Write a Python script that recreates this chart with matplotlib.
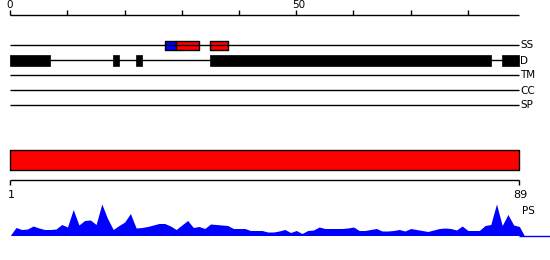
import matplotlib
matplotlib.use('Agg')
import matplotlib.pyplot as plt
import numpy as np

# sequence length and feature tracks
seq_len = 89
tracks = ['SS', 'D', 'TM', 'CC', 'SP']

# secondary structure segments (start, end, colour)
ss_segments = [(27, 29, 'blue'), (29, 33, 'red'), (35, 38, 'red')]
# disorder segments (start, end)
d_segments = [(0, 7), (18, 19), (22, 23), (35, 84), (86, 89)]

# domain bar across the whole sequence
domain = (0, 89)
domain_labels = ['1', '89']

# per-residue profile (PS), residues 1..89
ps_scores = [8, 6, 6.5, 9.5, 7.5, 6, 6, 6.5, 11, 8.5,
             26, 10.5, 15, 15.5, 11, 31.5, 17, 6, 10, 13.5,
             22, 7.5, 8, 9, 10.5, 12, 12, 9.5, 6, 10.5,
             15, 8, 9, 7, 11.5, 11, 10.5, 10, 7, 7,
             7, 5, 5, 5, 3.5, 3.5, 4.5, 6, 3, 5,
             2, 5, 5.5, 8.5, 7, 7, 7, 7, 7.5, 8.5,
             5, 5, 6, 7, 4.5, 4.5, 5, 6, 4.5, 7,
             6, 5, 4, 5.5, 7, 7.5, 7, 5.5, 9.5, 5,
             5, 5, 10, 11, 31.5, 10, 21, 10.5, 9]

ruler_ticks = list(range(0, 90, 10))
ruler_labels = {0: '0', 50: '50'}

W, H = 550, 260
x0, scale = 10.3, 5.72

fig = plt.figure(figsize=(W / 100, H / 100), dpi=100)
ax = fig.add_axes([0, 0, 1, 1])
ax.set_xlim(-x0 / scale, (W - x0) / scale)
ax.set_ylim(H, 0)
ax.axis('off')

fs = 7.5

# ruler on top
ax.hlines(15, 0, seq_len, color='black', lw=1)
for t in ruler_ticks:
    ax.vlines(t, 10, 15, color='black', lw=1)
    if t in ruler_labels:
        ax.text(t - 0.7, 9.5, ruler_labels[t], fontsize=fs, ha='left', va='bottom')

# feature tracks
row_y = {name: 45 + 15 * i for i, name in enumerate(tracks)}
for name in tracks:
    y = row_y[name]
    ax.hlines(y, 0, seq_len, color='black', lw=1)
    ax.text(seq_len + 0.1, y + 0.5, name, fontsize=fs, ha='left', va='center')

for s, e, c in ss_segments:
    ax.broken_barh([(s, e - s)], (row_y['SS'] - 4, 9), facecolors=c,
                   edgecolors='black', lw=1)
ax.broken_barh([(s, e - s) for s, e in d_segments], (row_y['D'] - 5, 10.5),
               facecolors='black', edgecolors='black', lw=0.5)

# domain bar
ax.broken_barh([(domain[0], domain[1] - domain[0])], (150.3, 20),
               facecolors='red', edgecolors='black', lw=1)

# lower ruler
ax.hlines(180.3, 0, seq_len, color='black', lw=1)
for t, lab in zip(domain, domain_labels):
    ax.vlines(t, 180.3, 185, color='black', lw=1)
    ax.text(t + 0.2, 190, lab, fontsize=fs + 0.5, ha='center', va='top')

# PS profile
base = 235.5
res = np.arange(1, seq_len + 1)
px = np.concatenate([[0], res, [seq_len + 0.85]])
py = np.concatenate([[0], ps_scores, [0]])
ax.fill_between(px, base, base - py, color='blue', lw=0)
ax.hlines(base, seq_len, ax.get_xlim()[1], color='blue', lw=1)
ax.text(seq_len + 0.4, 211, 'PS', fontsize=fs, ha='left', va='center')

fig.savefig('out.png', dpi=100)
